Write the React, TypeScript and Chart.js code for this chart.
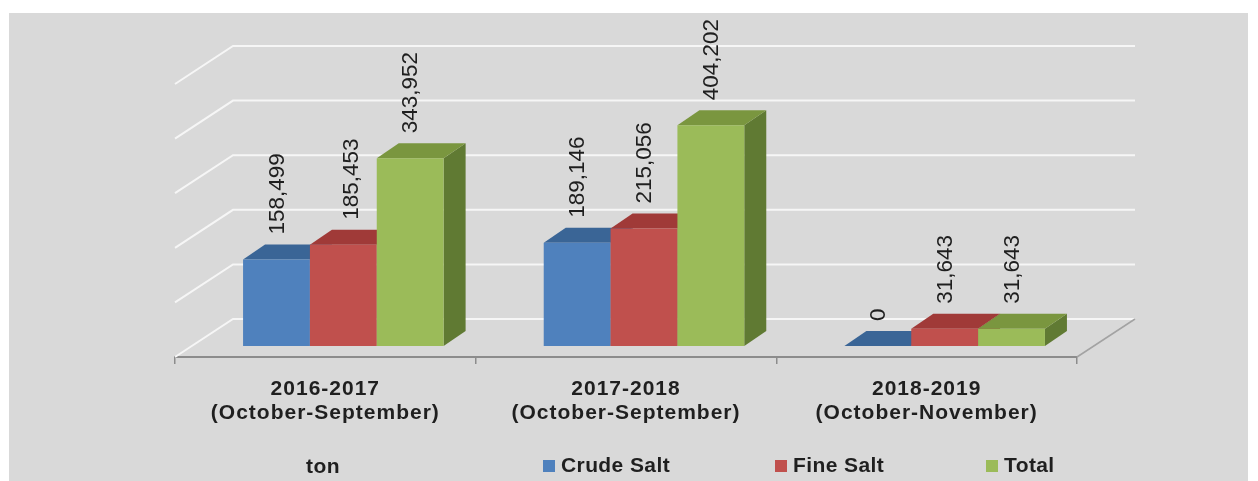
import React, { useEffect, useRef } from "react";
import { Chart, registerables } from "chart.js";

Chart.register(...registerables);

const categories = [
  ["2016-2017", "(October-September)"],
  ["2017-2018", "(October-September)"],
  ["2018-2019", "(October-November)"],
];
const crudeSalt = [158499, 189146, 0];
const fineSalt = [185453, 215056, 31643];
const total = [343952, 404202, 31643];
const unitLabel = "ton";

const faces = [
  { front: "#4f81bd", top: "#3a6596", side: "#345a87", legendX: 543 },
  { front: "#c0504d", top: "#a03a38", side: "#8a3230", legendX: 775 },
  { front: "#9bbb59", top: "#7a963f", side: "#607a33", legendX: 986 },
];
const WALL = { x: 58, y: -38 };
const BAR_SHIFT = { x: 18, y: -11 };
const BAR_DEPTH = { x: 22, y: -15 };
const TEXT_COLOR = "#1f1f1f";
const LABEL_FONT = '22.5px "Liberation Sans", Arial, sans-serif';
const BOLD_FONT = 'bold 21px "Liberation Sans", Arial, sans-serif';

const fmt = (v: number) => v.toLocaleString("en-US");

const scene3d = {
  id: "scene3d",
  beforeDraw(chart: any) {
    const { ctx } = chart;
    ctx.save();
    ctx.fillStyle = "#ffffff";
    ctx.fillRect(0, 0, chart.width, chart.height);
    ctx.fillStyle = "#d9d9d9";
    ctx.fillRect(9, 13, 1239, 468);
    ctx.restore();
    ctx.letterSpacing = "1px"; // category tick labels
  },
  beforeDatasetsDraw(chart: any) {
    const { ctx, chartArea, scales } = chart;
    const { left, right, bottom } = chartArea;
    ctx.save();
    // back wall + left wall gridlines, taken from the value scale's ticks
    ctx.strokeStyle = "#f6f6f6";
    ctx.lineWidth = 2;
    for (const t of scales.y.ticks) {
      const py = scales.y.getPixelForValue(t.value);
      ctx.beginPath();
      ctx.moveTo(left, py);
      ctx.lineTo(left + WALL.x, py + WALL.y);
      ctx.lineTo(right + WALL.x, py + WALL.y);
      ctx.stroke();
    }
    // right floor edge
    ctx.strokeStyle = "#a3a3a3";
    ctx.lineWidth = 1.5;
    ctx.beginPath();
    ctx.moveTo(right, bottom);
    ctx.lineTo(right + WALL.x, bottom + WALL.y);
    ctx.stroke();

    // bars, left to right so later faces cover earlier ones
    ctx.translate(BAR_SHIFT.x, BAR_SHIFT.y);
    chart.data.datasets.forEach((_: any, di: number) => {
      const meta = chart.getDatasetMeta(di);
      const f = faces[di];
      meta.data.forEach((bar: any) => {
        const l = bar.x - bar.width / 2;
        const r = bar.x + bar.width / 2;
        const t = bar.y;
        const b = bar.base;
        ctx.fillStyle = f.side;
        ctx.beginPath();
        ctx.moveTo(r, t);
        ctx.lineTo(r + BAR_DEPTH.x, t + BAR_DEPTH.y);
        ctx.lineTo(r + BAR_DEPTH.x, b + BAR_DEPTH.y);
        ctx.lineTo(r, b);
        ctx.closePath();
        ctx.fill();
        ctx.fillStyle = f.top;
        ctx.beginPath();
        ctx.moveTo(l, t);
        ctx.lineTo(l + BAR_DEPTH.x, t + BAR_DEPTH.y);
        ctx.lineTo(r + BAR_DEPTH.x, t + BAR_DEPTH.y);
        ctx.lineTo(r, t);
        ctx.closePath();
        ctx.fill();
        bar.draw(ctx);
      });
    });
    ctx.restore();
  },
  beforeDatasetDraw() {
    return false;
  },
  afterDatasetsDraw(chart: any) {
    const { ctx } = chart;
    ctx.save();
    ctx.fillStyle = TEXT_COLOR;
    ctx.font = LABEL_FONT;
    ctx.letterSpacing = "0px";
    ctx.textBaseline = "middle";
    ctx.textAlign = "left";
    chart.data.datasets.forEach((ds: any, di: number) => {
      chart.getDatasetMeta(di).data.forEach((bar: any, i: number) => {
        const nudge = di === 1 && i === 0 ? 7 : 0;
        ctx.save();
        ctx.translate(bar.x + BAR_SHIFT.x + nudge + 1, bar.y + BAR_SHIFT.y - 25);
        ctx.rotate(-Math.PI / 2);
        ctx.fillText(fmt(ds.data[i]), 0, 0);
        ctx.restore();
      });
    });
    // legend row
    ctx.font = BOLD_FONT;
    ctx.letterSpacing = "0.4px";
    ctx.textAlign = "center";
    ctx.fillText(unitLabel, 323, 467);
    ctx.textAlign = "left";
    chart.data.datasets.forEach((ds: any, di: number) => {
      const x = faces[di].legendX;
      ctx.fillStyle = faces[di].front;
      ctx.fillRect(x, 460, 12, 12);
      ctx.fillStyle = TEXT_COLOR;
      ctx.fillText(ds.label, x + 18, 466);
    });
    ctx.restore();
  },
};

export default function App() {
  const ref = useRef<HTMLCanvasElement>(null);
  useEffect(() => {
    const chart = new Chart(ref.current as HTMLCanvasElement, {
      type: "bar",
      data: {
        labels: categories as any,
        datasets: [
          { label: "Crude Salt", data: crudeSalt, backgroundColor: faces[0].front },
          { label: "Fine Salt", data: fineSalt, backgroundColor: faces[1].front },
          { label: "Total", data: total, backgroundColor: faces[2].front },
        ],
      },
      plugins: [scene3d as any],
      options: {
        responsive: false,
        animation: false,
        layout: { padding: { left: 175, right: 181, top: 84, bottom: 54 } },
        datasets: { bar: { categoryPercentage: 0.667, barPercentage: 1, borderWidth: 0 } },
        plugins: { legend: { display: false }, tooltip: { enabled: false } },
        scales: {
          x: {
            afterFit: (s: any) => { s.height = 70; },
            border: { color: "#8c8c8c", width: 2 },
            grid: { drawOnChartArea: false, drawTicks: true, tickLength: 7, color: "#8c8c8c", lineWidth: 1.5 },
            ticks: {
              maxRotation: 0,
              autoSkip: false,
              padding: 13,
              color: TEXT_COLOR,
              font: { family: '"Liberation Sans", Arial, sans-serif', size: 21, weight: "bold", lineHeight: 1.14 },
            },
          },
          y: {
            min: 0,
            max: 500000,
            afterFit: (s: any) => { s.width = 0; },
            border: { display: false },
            grid: { display: false },
            ticks: { stepSize: 100000, display: false },
          },
        },
      },
    });
    return () => chart.destroy();
  }, []);
  return (
    <div style={{ position: "absolute", left: 0, top: 0, width: 1258, height: 481 }}>
      <canvas ref={ref} width={1258} height={481} style={{ display: "block" }} />
    </div>
  );
}
